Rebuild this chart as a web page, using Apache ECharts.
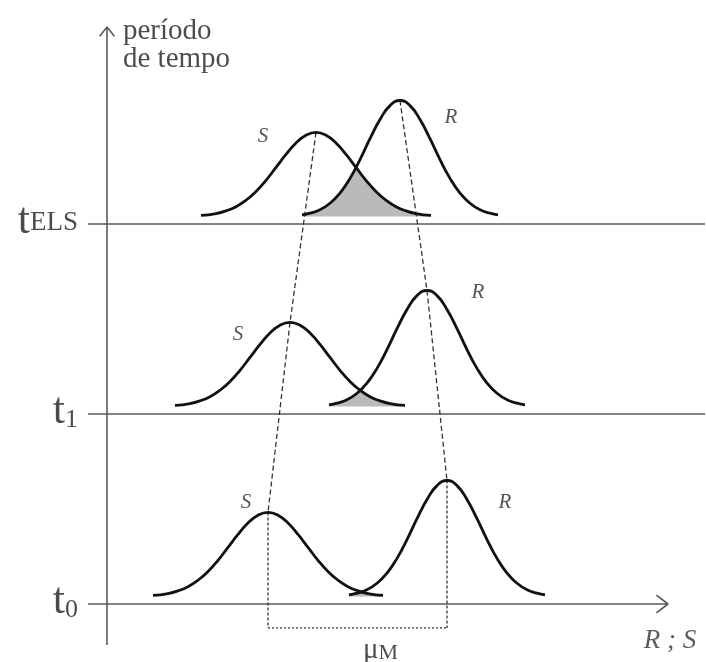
<!DOCTYPE html>
<html>
<head>
<meta charset="utf-8">
<script src="https://cdn.jsdelivr.net/npm/echarts@6/dist/echarts.min.js"></script>
<style>
  html, body { margin: 0; padding: 0; background: #ffffff; }
  #chart { width: 706px; height: 662px; }
</style>
</head>
<body>
<div id="chart"></div>
<script>
// Time levels: one horizontal baseline per level
const levelNames = ['t0', 't1', 'tELS'];
const levelY = [0, 1, 2];

// Mean position of the load effect S and of the resistance R at each level
const meanS = [8.05, 9.15, 10.45];
const meanR = [17.0, 16.0, 14.65];

// Bell-curve profiles: offset from the mean and curve height above its foot
const offsetsS = [-5.75, -5, -4.5, -4, -3.5, -3, -2.5, -2, -1.5, -1, -0.5, 0,
                  0.5, 1, 1.5, 2, 2.5, 3, 3.5, 4, 4.5, 5, 5.75];
const heightsS = [0.005, 0.015, 0.029, 0.051, 0.085, 0.131, 0.190, 0.258, 0.326, 0.386, 0.427, 0.442,
                  0.427, 0.386, 0.326, 0.258, 0.190, 0.131, 0.085, 0.051, 0.029, 0.015, 0.005];
const offsetsR = [-4.9, -4.5, -4, -3.5, -3, -2.5, -2, -1.5, -1, -0.5, 0,
                  0.5, 1, 1.5, 2, 2.5, 3, 3.5, 4, 4.5, 4.9];
const heightsR = [0.008, 0.017, 0.035, 0.069, 0.123, 0.200, 0.299, 0.409, 0.510, 0.583, 0.610,
                  0.583, 0.510, 0.409, 0.299, 0.200, 0.123, 0.069, 0.035, 0.017, 0.008];

// Curve labels (level index, curve name, anchor point)
const curveLabels = [
  { level: 2, name: 'S', at: [7.8, 2.463] },
  { level: 2, name: 'R', at: [17.2, 2.563] },
  { level: 1, name: 'S', at: [6.55, 1.416] },
  { level: 1, name: 'R', at: [18.55, 1.637] },
  { level: 0, name: 'S', at: [6.95, 0.532] },
  { level: 0, name: 'R', at: [19.9, 0.532] }
];

// Axis titles
const yTitle = 'período\nde tempo';
const xTitle = 'R ; S';
const marginLabel = { main: 'μ', sub: 'M' };

// Curves sit slightly above their baseline; the μM bracket sits below t0
const CURVE_FOOT = 0.04;
const BRACKET_Y = -0.126;

const SERIF = '"Liberation Serif", "DejaVu Serif", serif';
const AXIS_COLOR = '#5a5a5a';
const CURVE_COLOR = '#111111';
const DASH_COLOR = '#333333';
const TEXT_COLOR = '#1e1e1e';

function curvePoints(mean, offs, hts, level) {
  return offs.map((o, k) => [mean + o, level + CURVE_FOOT + hts[k]]);
}

// Linear read-out of a profile at a given offset (0 outside the curve)
function profileAt(offs, hts, o) {
  if (o < offs[0] || o > offs[offs.length - 1]) return 0;
  for (let k = 1; k < offs.length; k++) {
    if (o <= offs[k]) {
      const t = (o - offs[k - 1]) / (offs[k] - offs[k - 1]);
      return hts[k - 1] + t * (hts[k] - hts[k - 1]);
    }
  }
  return hts[hts.length - 1];
}

// Overlap region under both curves (failure zone)
function overlapPolygon(i) {
  const x0 = meanR[i] + offsetsR[0];
  const x1 = meanS[i] + offsetsS[offsetsS.length - 1];
  if (x1 <= x0) return null;
  const foot = levelY[i] + CURVE_FOOT;
  const pts = [[x0, foot]];
  const steps = 120;
  for (let k = 0; k <= steps; k++) {
    const x = x0 + (x1 - x0) * k / steps;
    const h = Math.min(profileAt(offsetsS, heightsS, x - meanS[i]),
                       profileAt(offsetsR, heightsR, x - meanR[i]));
    pts.push([x, foot + h]);
  }
  pts.push([x1, foot]);
  return pts;
}

const peakS = Math.max(...heightsS);
const peakR = Math.max(...heightsR);

const series = [];

function plainLine(data, color, width, type, z) {
  series.push({
    type: 'line', data: data, symbol: 'none', silent: true, clip: false, z: z || 2,
    lineStyle: { color: color, width: width, type: type || 'solid', cap: 'butt' }
  });
}

// Vertical axis with open arrow head
plainLine([[0, -0.216], [0, 3.037]], AXIS_COLOR, 1.6);
plainLine([[-0.37, 2.988], [0, 3.037], [0.37, 2.988]], AXIS_COLOR, 1.6);

// Baselines of each level; the lowest one is the R;S axis with an arrow
levelY.forEach((y, i) => {
  if (i === 0) {
    plainLine([[-0.95, y], [28.05, y]], AXIS_COLOR, 1.6);
    plainLine([[27.47, y + 0.047], [28.05, y], [27.47, y - 0.047]], AXIS_COLOR, 1.6);
  } else {
    plainLine([[-0.95, y], [29.9, y]], AXIS_COLOR, 1.6);
  }
});

// Shaded overlap of S and R
series.push({
  type: 'custom', silent: true, clip: false, z: 3,
  data: levelY.map((y, i) => [i, y]),
  renderItem: function (params, api) {
    const poly = overlapPolygon(params.dataIndex);
    if (!poly) return null;
    return {
      type: 'polygon',
      shape: { points: poly.map(p => api.coord(p)) },
      style: { fill: '#bababa', stroke: 'none' }
    };
  }
});

// Dashed lines through the means, from tELS down to t0
const topDown = levelY.map((y, i) => i).reverse();
const sPath = topDown.map(i => [meanS[i], levelY[i] + CURVE_FOOT + peakS]);
const rPath = topDown.map(i => [meanR[i], levelY[i] + CURVE_FOOT + peakR]);
plainLine(sPath, DASH_COLOR, 1.3, [5, 3], 4);
plainLine(rPath, DASH_COLOR, 1.3, [5, 3], 4);

// Continuation below t0 and the μM bracket
plainLine([[meanS[0], CURVE_FOOT + peakS], [meanS[0], BRACKET_Y]], DASH_COLOR, 1.3, [3, 2], 4);
plainLine([[meanR[0], CURVE_FOOT + peakR], [meanR[0], BRACKET_Y]], DASH_COLOR, 1.3, [3, 2], 4);
plainLine([[meanS[0], BRACKET_Y], [meanR[0], BRACKET_Y]], DASH_COLOR, 1.3, [2, 2], 4);

// Bell curves
levelY.forEach((y, i) => {
  [[meanS[i], offsetsS, heightsS], [meanR[i], offsetsR, heightsR]].forEach(c => {
    series.push({
      type: 'line', smooth: 0.5, symbol: 'none', silent: true, clip: false, z: 5,
      data: curvePoints(c[0], c[1], c[2], y),
      lineStyle: { color: CURVE_COLOR, width: 2.8 }
    });
  });
});

// Text items drawn as labels on invisible points
function textPoint(value, label) {
  series.push({
    type: 'scatter', symbolSize: 0, silent: true, clip: false, z: 6,
    data: [{ value: value, label: Object.assign({ show: true, position: 'inside' }, label) }]
  });
}

const levelRich = {
  t: { fontFamily: SERIF, fontSize: 44, lineHeight: 44, color: TEXT_COLOR, verticalAlign: 'bottom' },
  u: { fontFamily: SERIF, fontSize: 27, lineHeight: 27, color: TEXT_COLOR, verticalAlign: 'bottom',
       padding: [0, 0, 7, 0] },
  s: { fontFamily: SERIF, fontSize: 26, lineHeight: 24, color: TEXT_COLOR, verticalAlign: 'bottom' }
};
levelNames.forEach((name, i) => {
  const sub = name.slice(1);
  const fmt = sub.length > 1 ? '{t|t}{u|' + sub + '}' : '{t|t}{s|' + sub + '}';
  textPoint([-1.45, levelY[i]], {
    formatter: fmt, align: 'right', verticalAlign: 'middle', offset: [0, -3], rich: levelRich
  });
});

curveLabels.forEach(l => {
  textPoint(l.at, {
    formatter: l.name, fontFamily: SERIF, fontStyle: 'italic', fontSize: 21, color: '#2a2a2a',
    align: 'center', verticalAlign: 'middle'
  });
});

textPoint([0.8, 2.942], {
  formatter: yTitle, fontFamily: SERIF, fontSize: 29, lineHeight: 28, color: TEXT_COLOR,
  align: 'left', verticalAlign: 'middle'
});

textPoint([28.15, -0.195], {
  formatter: xTitle, fontFamily: SERIF, fontStyle: 'italic', fontSize: 27, color: '#333',
  align: 'center', verticalAlign: 'middle'
});

textPoint([12.8, -0.245], {
  formatter: '{m|' + marginLabel.main + '}{n|' + marginLabel.sub + '}',
  align: 'left', verticalAlign: 'middle',
  rich: {
    m: { fontFamily: SERIF, fontSize: 29, lineHeight: 28, color: TEXT_COLOR, verticalAlign: 'bottom' },
    n: { fontFamily: SERIF, fontSize: 22, lineHeight: 16, color: TEXT_COLOR, verticalAlign: 'bottom' }
  }
});

const chart = echarts.init(document.getElementById('chart'), null, { renderer: 'canvas' });
chart.setOption({
  animation: false,
  backgroundColor: '#ffffff',
  grid: { left: 7, right: 1, top: 15, bottom: 1 },
  xAxis: { type: 'value', min: -5, max: 29.9, show: false },
  yAxis: { type: 'value', min: -0.3, max: 3.1, show: false },
  series: series
});
</script>
</body>
</html>
